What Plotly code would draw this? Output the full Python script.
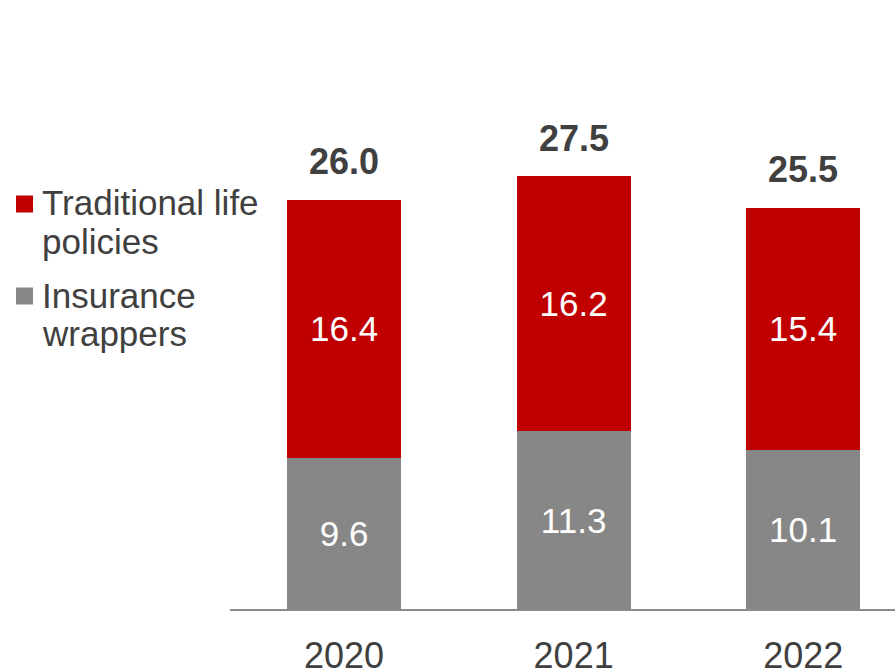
import plotly.graph_objects as go

# Data (EUR bn)
years = ["2020", "2021", "2022"]
insurance_wrappers = [9.6, 11.3, 10.1]
traditional_life = [16.4, 16.2, 15.4]
totals = [26.0, 27.5, 25.5]

RED = "#C00000"
GREY = "#878787"
TEXT = "#404040"
FONT = "Liberation Sans, Arial, sans-serif"

W, H = 895, 669
ML, MR, MT, MB = 230, 0, 0, 60
PW, PH = W - ML - MR, H - MT - MB


def px_x(x):
    """Pixel x -> paper x."""
    return (x - ML) / PW


def px_y(y):
    """Pixel y (from top) -> paper y."""
    return (H - MB - y) / PH


fig = go.Figure()

fig.add_trace(go.Bar(
    x=years, y=insurance_wrappers, name="Insurance wrappers",
    marker=dict(color=GREY, line=dict(width=0)),
    text=[f"{v:.1f}" for v in insurance_wrappers],
    textposition="inside", insidetextanchor="middle",
    textfont=dict(color="white", size=35, family=FONT),
    constraintext="none",
))
fig.add_trace(go.Bar(
    x=years, y=traditional_life, name="Traditional life policies",
    marker=dict(color=RED, line=dict(width=0)),
    text=[f"{v:.1f}" for v in traditional_life],
    textposition="inside", insidetextanchor="middle",
    textfont=dict(color="white", size=35, family=FONT),
    constraintext="none",
))

# Totals above each stack
for i, tot in enumerate(totals):
    fig.add_annotation(
        x=i, y=tot, xref="x", yref="y",
        text=f"<b>{tot:.1f}</b>", showarrow=False,
        yanchor="middle", yshift=38,
        font=dict(size=36, color=TEXT, family=FONT),
    )

# Legend drawn on the left: coloured square + wrapped label
legend_items = [
    (RED, ["Traditional life", "policies"], 204, [202.5, 241.5]),
    (GREY, ["Insurance", "wrappers"], 296, [295, 333]),
]
for colour, lines, sq_cy, line_cys in legend_items:
    fig.add_shape(
        type="rect", xref="paper", yref="paper",
        x0=px_x(16), x1=px_x(33), y0=px_y(sq_cy + 8.5), y1=px_y(sq_cy - 8.5),
        fillcolor=colour, line=dict(width=0),
    )
    for txt, cy in zip(lines, line_cys):
        fig.add_annotation(
            xref="paper", yref="paper", x=px_x(40), y=px_y(cy),
            xanchor="left", yanchor="middle", text=txt, showarrow=False,
            font=dict(size=35, color=TEXT, family=FONT),
        )

fig.update_layout(
    barmode="stack",
    bargap=0.503,
    width=W, height=H,
    margin=dict(l=ML, r=MR, t=MT, b=MB, autoexpand=False),
    paper_bgcolor="white", plot_bgcolor="white",
    font=dict(family=FONT, color=TEXT, size=35),
    showlegend=False,
    xaxis=dict(
        type="category", range=[-0.497, 2.40], automargin=False,
        showline=True, linecolor="#8a8a8a", linewidth=2,
        showgrid=False, zeroline=False, ticks="",
        tickfont=dict(size=36, color=TEXT, family=FONT),
        ticklabelstandoff=14,
    ),
    yaxis=dict(
        range=[0, 38.7], visible=False, showgrid=False, zeroline=False,
        automargin=False,
    ),
)

fig.write_html("out.html")
